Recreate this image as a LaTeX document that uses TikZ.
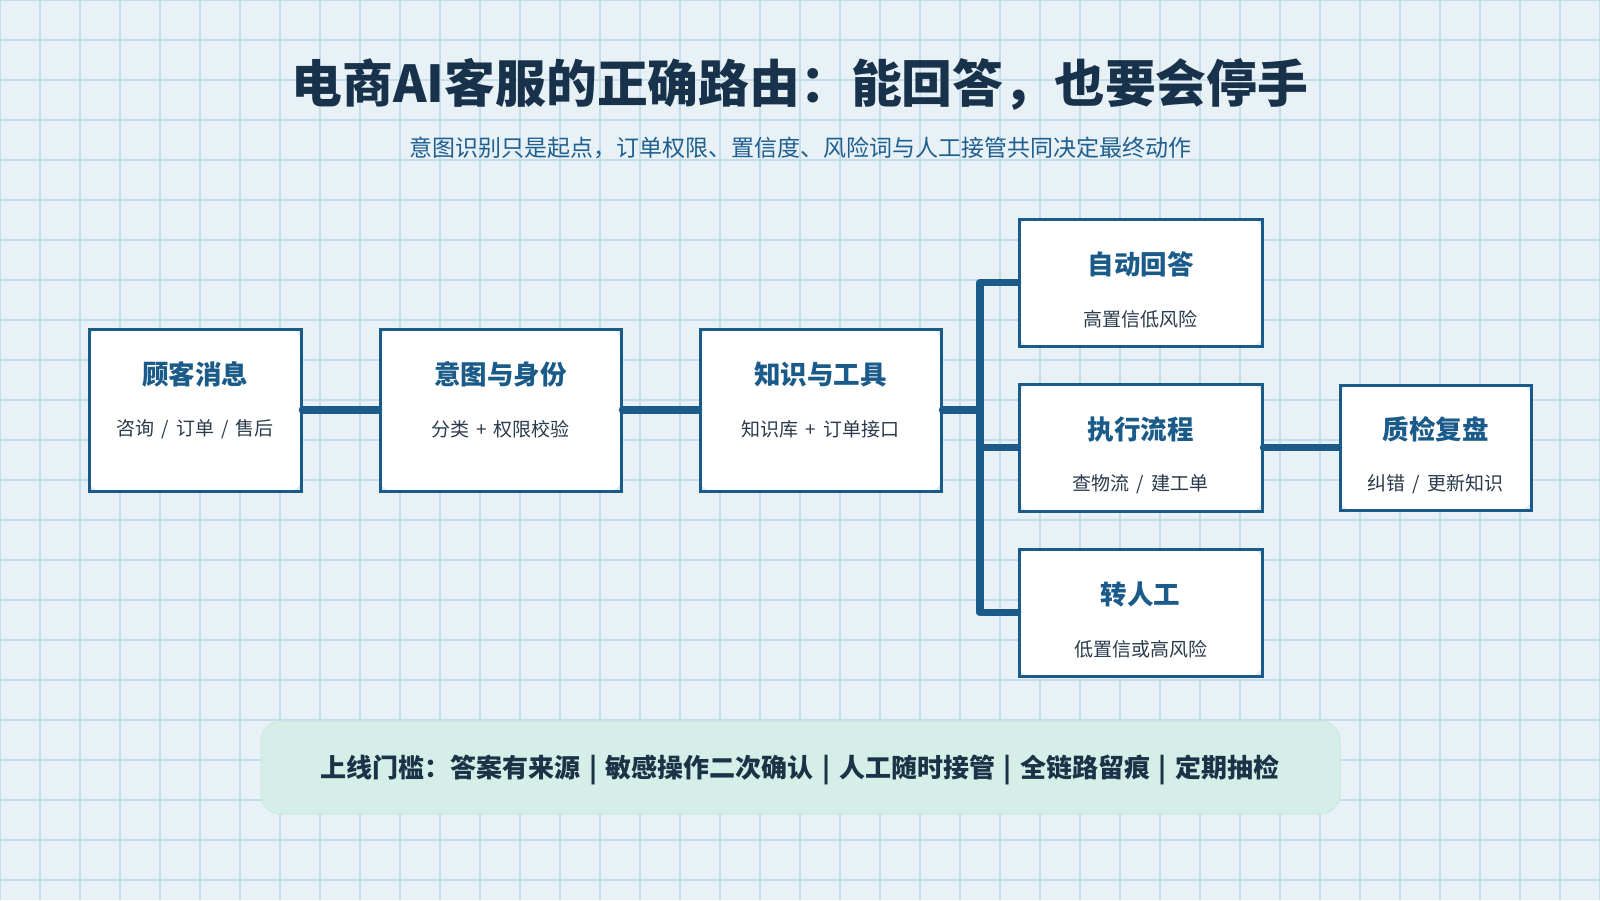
\documentclass[tikz,border=0pt]{standalone}
\usepackage{fontspec}
\setmainfont{Noto Sans CJK SC}
\definecolor{bgcol}{HTML}{E8F1F5}
\definecolor{gridcol}{HTML}{C6DCE8}
\definecolor{titlecol}{HTML}{17324A}
\definecolor{subtitlecol}{HTML}{1F5F8F}
\definecolor{boxblue}{HTML}{1B5B8A}
\definecolor{subtext}{HTML}{2B3B4B}
\definecolor{cornercol}{HTML}{E4ECF1}
\definecolor{barfill}{HTML}{D5EFE8}
\definecolor{barline}{HTML}{CBE7E0}
\definecolor{bartext}{HTML}{1B3247}
\newcommand{\sep}[1]{\hspace{0.38em}#1\hspace{0.38em}}
\newcommand{\barsep}{\hspace{0.33em}|\hspace{0.33em}}
\tikzset{
  gridline/.style={draw=gridcol, line width=1.2pt},
  flowbox/.style={draw=boxblue, line width=3pt, fill=cornercol, inner sep=0pt,
    path picture={\fill[white, rounded corners=12pt] (path picture bounding box.south west) rectangle (path picture bounding box.north east);}},
  boxtitle/.style={inner sep=0pt, text=boxblue, font=\fontsize{26.5}{30}\selectfont\bfseries},
  boxsub/.style={inner sep=0pt, text=subtext, font=\fontsize{19}{22}\selectfont},
  conn/.style={draw=boxblue, line width=7.5pt, line cap=round, line join=round}
}
\begin{document}
\begin{tikzpicture}[x=1pt,y=-1pt]
\useasboundingbox (0,0) rectangle (1600,900);
\fill[bgcol] (0,0) rectangle (1600,900);
\foreach \i in {0,40,...,1600} \draw[gridline] (\i,0) -- (\i,900);
\foreach \j in {0,40,...,880} \draw[gridline] (0,\j) -- (1600,\j);

% title
\node[inner sep=0pt, text=titlecol, font=\fontsize{50.8}{58}\selectfont\bfseries] (title) at (800,84) {电商AI客服的正确路由：能回答，也要会停手};
\node[inner sep=0pt, text=subtitlecol, font=\fontsize{23}{27}\selectfont] (subtitle) at (800,148) {意图识别只是起点，订单权限、置信度、风险词与人工接管共同决定最终动作};

% boxes
\node[flowbox, minimum width=212pt, minimum height=162pt] (b1) at (195,410) {};
\node[flowbox, minimum width=241pt, minimum height=162pt] (b2) at (500.5,410) {};
\node[flowbox, minimum width=241pt, minimum height=162pt] (b3) at (820.5,410) {};
\node[flowbox, minimum width=243pt, minimum height=127pt] (b4) at (1140.5,282.5) {};
\node[flowbox, minimum width=243pt, minimum height=127pt] (b5) at (1140.5,447.5) {};
\node[flowbox, minimum width=243pt, minimum height=127pt] (b6) at (1140.5,612.5) {};
\node[flowbox, minimum width=191pt, minimum height=125pt] (b7) at (1435.5,447.5) {};

\node[boxtitle] (t1) at ([yshift=-47pt]b1.north) {顾客消息};
\node[boxsub] (s1) at ([yshift=-102pt]b1.north) {咨询\sep{/}订单\sep{/}售后};
\node[boxtitle] (t2) at ([yshift=-47pt]b2.north) {意图与身份};
\node[boxsub] (s2) at ([yshift=-102pt]b2.north) {分类\sep{+}权限校验};
\node[boxtitle] (t3) at ([yshift=-47pt]b3.north) {知识与工具};
\node[boxsub] (s3) at ([yshift=-102pt]b3.north) {知识库\sep{+}订单接口};
\node[boxtitle] (t4) at ([yshift=-47pt]b4.north) {自动回答};
\node[boxsub] (s4) at ([yshift=-102pt]b4.north) {高置信低风险};
\node[boxtitle] (t5) at ([yshift=-47pt]b5.north) {执行流程};
\node[boxsub] (s5) at ([yshift=-102pt]b5.north) {查物流\sep{/}建工单};
\node[boxtitle] (t6) at ([yshift=-47pt]b6.north) {转人工};
\node[boxsub] (s6) at ([yshift=-102pt]b6.north) {低置信或高风险};
\node[boxtitle] (t7) at ([yshift=-46pt]b7.north) {质检复盘};
\node[boxsub] (s7) at ([yshift=-101pt]b7.north) {纠错\sep{/}更新知识};

% connectors
\coordinate (trunk) at (980,410);
\draw[conn] (b1.east) -- (b2.west);
\draw[conn] (b2.east) -- (b3.west);
\draw[conn] (b3.east) -- (trunk);
\draw[conn] (b4.west) -- (b4.west -| trunk) -- (b6.west -| trunk) -- (b6.west);
\draw[conn] (b5.west -| trunk) -- (b5.west);
\draw[conn] (b5.east) -- (b7.west);

% bottom bar
\fill[barfill, draw=barline, line width=1pt, rounded corners=20pt] (261,721) rectangle (1340,814);
\node[inner sep=0pt, text=bartext, font=\fontsize{26}{30}\selectfont\bfseries] (bar) at (800,770) {上线门槛：答案有来源\barsep 敏感操作二次确认\barsep 人工随时接管\barsep 全链路留痕\barsep 定期抽检};
\end{tikzpicture}
\end{document}
